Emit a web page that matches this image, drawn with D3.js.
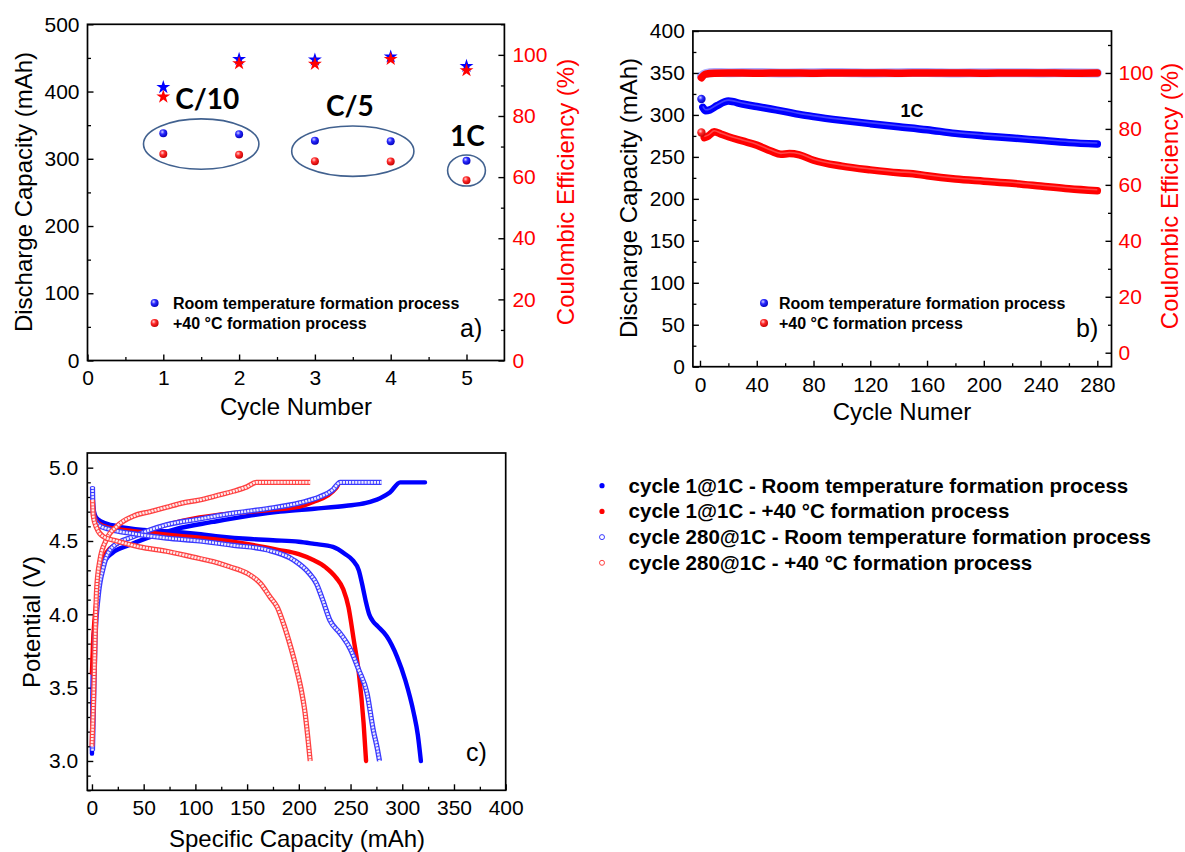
<!DOCTYPE html>
<html><head><meta charset="utf-8">
<script src="https://cdn.jsdelivr.net/npm/d3@7"></script>
<style>
body{margin:0;background:#fff;}
svg{display:block;font-family:"Liberation Sans",Arial,sans-serif;}
</style></head><body>
<svg id="fig" width="1185" height="852"></svg>
<script>
// ---------- panel a: first five cycles ----------
const aCycles   = [1, 2, 3, 4, 5];
const aCapRoom  = [338, 336.5, 327, 326, 297];
const aCap40    = [307, 306, 296.5, 296, 268];
const aCeRoom   = [89.4, 98.6, 98.4, 99.4, 96.3];
const aCe40     = [86.3, 97.2, 97.0, 98.6, 94.9];
const aRates    = ["C/10", "C/5", "1C"];
const aRateCycles = [[1, 2], [3, 4], [5, 5]];

// ---------- panel b: long cycling at 1C ----------
const bCyclesRoom = [1, 2, 4, 7, 12, 20, 30, 40, 50, 60, 70, 80, 100, 120, 140, 160, 180, 200, 220, 240, 260, 280];
const bCapRoom    = [319, 309, 305, 306, 311, 316.5, 313, 310, 307, 304, 300.7, 298, 293.5, 289.6, 286, 282.4, 278, 275, 272.5, 269.7, 267, 265.3];
const bCycles40   = [1, 3, 6, 10, 15, 20, 30, 40, 50, 57, 63, 70, 80, 100, 120, 140, 150, 160, 180, 200, 220, 240, 260, 280];
const bCap40      = [279, 273, 275, 280, 277, 274, 269, 264, 257, 253, 254, 252.5, 246, 239, 234.5, 231, 230, 227.5, 223.6, 221, 218.5, 215.3, 212, 209.7];
const bCeCycles   = [1, 4, 10, 20, 40, 60, 80, 100, 120, 140, 160, 180, 200, 220, 240, 260, 280];
const bCeRoom     = [98.9, 99.8, 100.2, 100.1, 100.2, 100.0, 100.1, 100.2, 100.0, 100.1, 100.2, 100.0, 100.1, 100.1, 100.0, 100.1, 100.0];
const bCe40       = [98.3, 99.6, 99.9, 100.0, 99.9, 100.0, 99.9, 100.0, 100.0, 99.9, 100.0, 100.0, 99.9, 100.0, 100.0, 99.9, 100.0];

// ---------- panel c: voltage profiles (capacity mAh, potential V) ----------
const c1RoomCharge = [[0,3.05],[0.5,3.45],[1.5,3.8],[3,3.95],[6,4.17],[9,4.30],[13,4.37],[20,4.42],[35,4.47],[53,4.52],[80,4.58],[117,4.63],[150,4.67],[182,4.70],[215,4.72],[246,4.74],[265,4.76],[278,4.79],[288,4.83],[298,4.9],[322,4.9]];
const c1RoomDisch  = [[0.5,4.86],[1,4.76],[2,4.70],[4,4.66],[10,4.63],[25,4.60],[50,4.575],[75,4.565],[100,4.55],[125,4.53],[150,4.515],[175,4.505],[200,4.495],[215,4.48],[233,4.46],[245,4.41],[252,4.37],[258,4.30],[262,4.18],[265,4.08],[268,4.0],[272,3.95],[276,3.92],[285,3.85],[295,3.71],[303,3.55],[311,3.33],[315,3.18],[318,3.0]];
const c1HotCharge  = [[0,3.6],[1,3.8],[2.3,3.95],[4.5,4.10],[7.7,4.28],[14,4.42],[24,4.48],[40,4.53],[56,4.575],[72,4.61],[104,4.66],[137,4.69],[169,4.71],[201,4.735],[215,4.77],[228,4.81],[236,4.86],[240,4.9],[262,4.9]];
const c1HotDisch   = [[0.5,4.76],[2,4.68],[5,4.63],[12,4.60],[25,4.58],[50,4.56],[85,4.535],[120,4.51],[150,4.48],[180,4.44],[200,4.41],[214,4.37],[226,4.32],[236,4.25],[243,4.17],[248,4.05],[253,3.83],[258,3.6],[262.6,3.26],[265,3.0]];
const c280RoomCharge = [[0.5,3.07],[3,3.83],[6,4.12],[11,4.32],[20,4.46],[40,4.53],[56,4.575],[72,4.61],[104,4.65],[137,4.69],[169,4.72],[201,4.76],[220,4.80],[233,4.85],[240,4.9],[280,4.9]];
const c280RoomDisch  = [[0.5,4.87],[1,4.72],[2,4.66],[6,4.61],[17,4.58],[40,4.55],[72,4.52],[104,4.50],[137,4.47],[169,4.44],[195,4.37],[210,4.28],[217,4.21],[223,4.10],[230,3.96],[240,3.87],[250,3.76],[258,3.62],[266,3.46],[272,3.21],[276,3.08],[278,3.0]];
const c280HotCharge  = [[0,3.1],[1.3,3.37],[3,3.83],[4.5,4.17],[7.7,4.37],[14,4.51],[24,4.60],[40,4.67],[56,4.70],[72,4.73],[88,4.76],[104,4.78],[121,4.81],[137,4.84],[150,4.87],[159,4.9],[211,4.9]];
const c280HotDisch   = [[0.5,4.78],[1.3,4.67],[4.5,4.59],[11,4.53],[24,4.50],[46,4.46],[72,4.43],[98,4.39],[117,4.36],[133,4.325],[150,4.28],[163,4.21],[172,4.12],[179,4.05],[185,3.94],[192,3.78],[198,3.62],[203,3.46],[206,3.33],[209,3.14],[211,3.0]];

const legendA = ["Room temperature formation process", "+40 \u00B0C formation process"];
const legendB = ["Room temperature formation process", "+40 \u00B0C formation prcess"];
const legendC = ["cycle 1@1C - Room temperature formation process",
                 "cycle 1@1C - +40 \u00B0C formation process",
                 "cycle 280@1C - Room temperature formation process",
                 "cycle 280@1C - +40 \u00B0C formation process"];

const BLUE = "#0000ff", RED = "#ff0000", FONT = "'Liberation Sans', Arial, sans-serif";
const svg = d3.select("#fig");

// sphere-like marker fills
const defs = svg.append("defs");
function sphere(id, hi, mid, lo) {
  const g = defs.append("radialGradient").attr("id", id).attr("cx", 0.38).attr("cy", 0.34).attr("r", 0.7);
  g.append("stop").attr("offset", 0).attr("stop-color", hi);
  g.append("stop").attr("offset", 0.4).attr("stop-color", mid);
  g.append("stop").attr("offset", 1).attr("stop-color", lo);
}
sphere("sphB", "#d0d0ff", "#2a2aff", "#0000b8");
sphere("sphR", "#ffd0d0", "#ff2a2a", "#c00000");

function frame(g, x, y) {
  const [x0, x1] = x.range(), [y0, y1] = y.range();
  g.append("rect").attr("x", x0).attr("y", y1).attr("width", x1 - x0).attr("height", y0 - y1)
    .attr("fill", "none").attr("stroke", "#000").attr("stroke-width", 1.7);
}
function axis(g, make, scale, major, minor, fmt, tr, color, pad) {
  const gm = g.append("g").attr("transform", tr)
    .call(make(scale).tickValues(major).tickSize(-6).tickSizeOuter(0).tickPadding(pad).tickFormat(fmt));
  gm.select(".domain").remove();
  gm.selectAll("line").attr("stroke", "#000").attr("stroke-width", 1.4);
  gm.selectAll("text").attr("fill", color).style("font-size", "21px").style("font-family", FONT);
  const gn = g.append("g").attr("transform", tr)
    .call(make(scale).tickValues(minor).tickSize(-3.5).tickSizeOuter(0).tickFormat(""));
  gn.select(".domain").remove();
  gn.selectAll("line").attr("stroke", "#000").attr("stroke-width", 1.3);
}
function title(g, text, x, y, rot, color) {
  g.append("text").attr("transform", `translate(${x},${y})` + (rot ? " rotate(-90)" : ""))
    .attr("text-anchor", "middle").attr("fill", color || "#000")
    .style("font-size", "24px").style("font-family", FONT).text(text);
}
function label(g, text, x, y, size, weight, anchor) {
  return g.append("text").attr("x", x).attr("y", y).attr("text-anchor", anchor || "start")
    .style("font-size", size + "px").style("font-weight", weight || "normal")
    .style("font-family", FONT).text(text);
}

// ================= panel a =================
{
  const g = svg.append("g");
  const x = d3.scaleLinear([0, 5.5], [87.5, 504.4]);
  const y = d3.scaleLinear([0, 500], [360.5, 24.3]);
  const yR = d3.scaleLinear([0, 110], [360.5, 24.3]);
  frame(g, x, y);
  axis(g, d3.axisBottom, x, d3.range(0, 6), [0.5, 1.5, 2.5, 3.5, 4.5], d3.format("d"), `translate(0,${y(0)})`, "#000", 10);
  axis(g, d3.axisLeft, y, d3.range(0, 501, 100), d3.range(50, 500, 100), d3.format("d"), `translate(${x(0)},0)`, "#000", 8);
  axis(g, d3.axisRight, yR, d3.range(0, 101, 20), d3.range(10, 111, 20), d3.format("d"), `translate(${x(5.5)},0)`, RED, 8);
  title(g, "Discharge Capacity (mAh)", 32, 192, true);
  title(g, "Coulombic Efficiency (%)", 574, 192, true, RED);
  title(g, "Cycle Number", 296, 415, false);

  // rate groups: an ellipse around each group's capacity points, rate label above
  const ellR = [[57.7, 25.2], [61.1, 25.2], [18.9, 15.5]];
  const lblDx = [6, -3, 1];
  aRates.forEach((r, i) => {
    const [c0, c1] = aRateCycles[i];
    const idx = aCycles.map((c, k) => k).filter(k => aCycles[k] >= c0 && aCycles[k] <= c1);
    const vals = idx.flatMap(k => [aCapRoom[k], aCap40[k]]);
    const ex = x((c0 + c1) / 2), ey = y(d3.mean(vals));
    g.append("ellipse").attr("cx", ex).attr("cy", ey).attr("rx", ellR[i][0]).attr("ry", ellR[i][1])
      .attr("fill", "none").attr("stroke", "#41618f").attr("stroke-width", 1.6);
    g.append("text").attr("x", ex + lblDx[i]).attr("y", ey - ellR[i][1] - 9.5)
      .attr("text-anchor", "middle").style("font-size", "28px").style("font-weight", "bold")
      .style("font-family", "Lato, 'Open Sans', sans-serif").text(r);
  });

  const star = d3.symbol(d3.symbolStar).size(60);
  g.selectAll(".sb").data(aCycles).join("path").attr("d", star).attr("fill", BLUE)
    .attr("transform", (d, i) => `translate(${x(d)},${yR(aCeRoom[i])})`);
  g.selectAll(".sr").data(aCycles).join("path").attr("d", star).attr("fill", RED)
    .attr("transform", (d, i) => `translate(${x(d)},${yR(aCe40[i])})`);
  g.selectAll(".cb").data(aCycles).join("circle").attr("cx", d => x(d)).attr("cy", (d, i) => y(aCapRoom[i]))
    .attr("r", 4).attr("fill", "url(#sphB)");
  g.selectAll(".cr").data(aCycles).join("circle").attr("cx", d => x(d)).attr("cy", (d, i) => y(aCap40[i]))
    .attr("r", 4).attr("fill", "url(#sphR)");

  legendA.forEach((t, i) => {
    g.append("circle").attr("cx", 154.6).attr("cy", 303 + i * 20).attr("r", 4).attr("fill", i ? "url(#sphR)" : "url(#sphB)");
    label(g, t, 173, 308.5 + i * 20, 16, "bold");
  });
  label(g, "a)", 460, 337, 25);
}

// ================= panel b =================
{
  const g = svg.append("g");
  const x = d3.scaleLinear([-5, 290], [692.9, 1111.5]);
  const y = d3.scaleLinear([0, 400], [366.7, 31]);
  const yR = d3.scaleLinear([-5, 115], [366.7, 31]);
  frame(g, x, y);
  axis(g, d3.axisBottom, x, d3.range(0, 281, 40), d3.range(20, 290, 40), d3.format("d"), `translate(0,${y(0)})`, "#000", 10);
  axis(g, d3.axisLeft, y, d3.range(0, 401, 50), d3.range(25, 400, 50), d3.format("d"), `translate(${x(-5)},0)`, "#000", 8);
  axis(g, d3.axisRight, yR, d3.range(0, 101, 20), d3.range(10, 111, 20), d3.format("d"), `translate(${x(290)},0)`, RED, 7);
  title(g, "Discharge Capacity (mAh)", 637, 198, true);
  title(g, "Coulombic Efficiency (%)", 1178, 196, true, RED);
  title(g, "Cycle Numer", 902, 420, false);

  const band = (cyc, vals, sc) => d3.line().x((d, i) => x(cyc[i])).y(d => sc(d)).curve(d3.curveMonotoneX)(vals);
  // coulombic efficiency bands
  g.append("path").attr("d", band(bCeCycles, bCeRoom, yR)).attr("fill", "none")
    .attr("stroke", "#4a4aff").attr("stroke-width", 9).attr("stroke-linecap", "round").attr("opacity", 0.45);
  g.append("path").attr("d", band(bCeCycles, bCe40, yR)).attr("fill", "none")
    .attr("stroke", RED).attr("stroke-width", 7.5).attr("stroke-linecap", "round");
  // capacity bands (first cycle drawn as its own marker)
  [[bCyclesRoom, bCapRoom, BLUE, "#8f8fff", "url(#sphB)"], [bCycles40, bCap40, RED, "#ff9a9a", "url(#sphR)"]].forEach(([cyc, vals, col, hi, sph]) => {
    g.append("path").attr("d", band(cyc.slice(1), vals.slice(1), y)).attr("fill", "none")
      .attr("stroke", col).attr("stroke-width", 7.5).attr("stroke-linecap", "round").attr("stroke-linejoin", "round");
    g.append("path").attr("d", band(cyc.slice(1), vals.slice(1), y)).attr("fill", "none")
      .attr("stroke", hi).attr("stroke-width", 1.6).attr("opacity", 0.45).attr("transform", "translate(0,-1)");
    g.append("circle").attr("cx", x(cyc[0])).attr("cy", y(vals[0])).attr("r", 4.2).attr("fill", sph);
  });

  label(g, "1C", 912, 116.5, 18, "bold", "middle");
  legendB.forEach((t, i) => {
    g.append("circle").attr("cx", 764).attr("cy", 303 + i * 20).attr("r", 4).attr("fill", i ? "url(#sphR)" : "url(#sphB)");
    label(g, t, 779, 308.5 + i * 20, 16, "bold");
  });
  label(g, "b)", 1076, 337, 25);
}

// ================= panel c =================
{
  const g = svg.append("g");
  const x = d3.scaleLinear([-4.5, 400], [87.3, 505.7]);
  const y = d3.scaleLinear([2.8, 5.1], [790.3, 453]);
  frame(g, x, y);
  axis(g, d3.axisBottom, x, d3.range(0, 401, 50), d3.range(25, 400, 50), d3.format("d"), `translate(0,${y(2.8)})`, "#000", 10);
  const minV = d3.range(28, 51).filter(v => v % 5 !== 0).map(v => v / 10);
  axis(g, d3.axisLeft, y, [3.0, 3.5, 4.0, 4.5, 5.0], minV, d3.format(".1f"), `translate(${x(-4.5)},0)`, "#000", 9);
  title(g, "Potential (V)", 40, 622, true);
  title(g, "Specific Capacity (mAh)", 297, 847, false);

  const line = d3.line().x(d => x(d[0])).y(d => y(d[1])).curve(d3.curveMonotoneX);
  const solid = (data, col) => g.append("path").attr("d", line(data)).attr("fill", "none")
    .attr("stroke", col).attr("stroke-width", 4.4).attr("stroke-linejoin", "round").attr("stroke-linecap", "round");
  const hollow = (data, col) => {
    g.append("path").attr("d", line(data)).attr("fill", "none").attr("stroke", col)
      .attr("stroke-width", 5.2).attr("stroke-linejoin", "round");
    g.append("path").attr("d", line(data)).attr("fill", "none").attr("stroke", "#fff")
      .attr("stroke-width", 2.6).attr("stroke-dasharray", "2.2 0.9").attr("opacity", 0.9);
  };
  solid(c1RoomCharge, BLUE); solid(c1RoomDisch, BLUE);
  solid(c1HotCharge, RED); solid(c1HotDisch, RED);
  hollow(c280RoomCharge, "#3a3aff"); hollow(c280RoomDisch, "#3a3aff");
  hollow(c280HotCharge, "#ff4040"); hollow(c280HotDisch, "#ff4040");
  label(g, "c)", 466, 761, 25);
}

// ================= legend for panel c =================
{
  const g = svg.append("g");
  const mk = [["#0000ff", true], ["#ff0000", true], ["#3a3aff", false], ["#ff4040", false]];
  legendC.forEach((t, i) => {
    const cyy = 485.7 + i * 25.7;
    g.append("circle").attr("cx", 602).attr("cy", cyy).attr("r", mk[i][1] ? 2.6 : 2.5)
      .attr("fill", mk[i][1] ? mk[i][0] : "none").attr("stroke", mk[i][0]).attr("stroke-width", mk[i][1] ? 0 : 1);
    label(g, t, 628.6, cyy + 7, 20.5, "bold");
  });
}
</script>
</body></html>
